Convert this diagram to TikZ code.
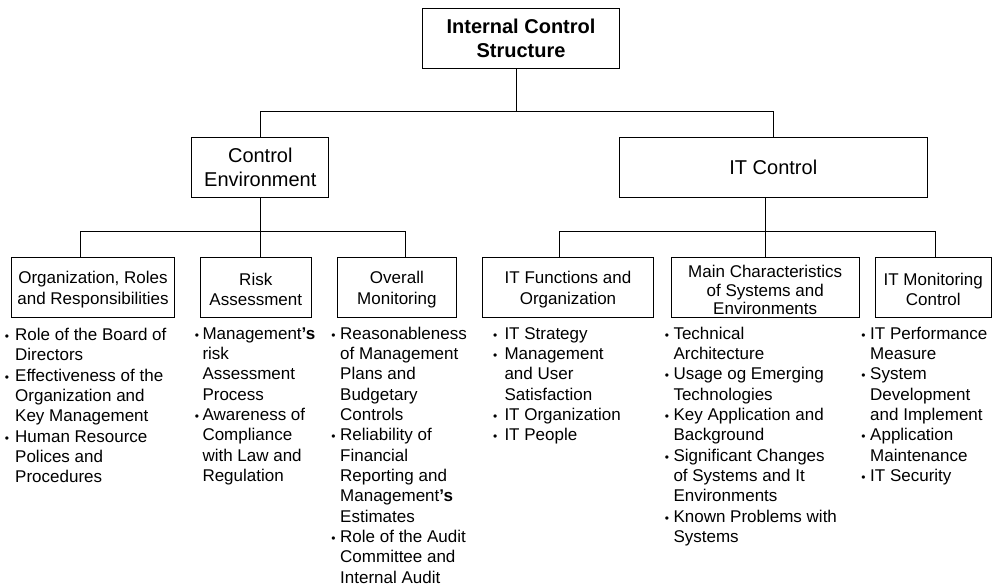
\documentclass[tikz,border=0pt]{standalone}
\usepackage{fontspec}
\setmainfont{Liberation Sans}
\newcommand\bu[1]{\llap{{\fontsize{12}{12}\selectfont •}\hspace{#1}}}
\newcommand\mgs{Management\textbf{’s}}
\begin{document}
\begin{tikzpicture}[x=1pt,y=-1pt,
  box/.style={draw, line width=1pt, inner sep=0pt, align=center},
  hdr/.style={box, minimum height=60pt},
  htxt/.style={inner sep=0pt, align=center, font=\fontsize{17}{20.5}\selectfont},
  lst/.style={anchor=base west, inner sep=0pt, font=\fontsize{17}{20.35}\selectfont},
  con/.style={line width=1pt}]
\useasboundingbox (0,0) rectangle (992,587);
\fill[white] (0,0) rectangle (992,587);

% top level
\node[box, minimum width=196.6pt, minimum height=60.4pt,
      font=\fontsize{20}{23.4}\selectfont\bfseries] (top) at (521,38.5) {Internal Control\\Structure};
\node[box, minimum width=137.3pt, minimum height=60pt,
      font=\fontsize{20}{24}\selectfont] (ce) at (260.3,167.5) {Control\\Environment};
\node[box, minimum width=308pt, minimum height=60pt,
      font=\fontsize{20}{24}\selectfont] (ic) at (773.3,167.5) {IT Control};

% second level boxes
\node[hdr, minimum width=162.6pt] (org) at (93,287.5) {};
\node[hdr, minimum width=110.5pt] (rk) at (255.75,287.5) {};
\node[hdr, minimum width=119.7pt] (ov) at (396.9,287.5) {};
\node[hdr, minimum width=170.6pt] (itf) at (568,287.5) {};
\node[hdr, minimum width=188.3pt] (mc) at (765.2,287.5) {};
\node[hdr, minimum width=115.5pt] (mon) at (933.25,287.5) {};

% second level texts
\node[htxt] (orgt) at ([yshift=-2pt]org.center) {Organization, Roles\\and Responsibilities};
\node[htxt] (rkt) at ([yshift=-2pt]rk.center) {Risk\\Assessment};
\node[htxt] (ovt) at ([yshift=-2pt]ov.center) {Overall\\Monitoring};
\node[htxt] (itft) at ([yshift=-2pt]itf.center) {IT Functions and\\Organization};
\node[htxt, font=\fontsize{17}{18.3}\selectfont] (mct) at ([yshift=-2.5pt]mc.center) {Main Characteristics\\of Systems and\\Environments};
\node[htxt] (mont) at ([yshift=-2pt]mon.center) {IT Monitoring\\Control};

% connectors
\coordinate (j0) at (516.7,111);
\coordinate (j1) at (260,231);
\coordinate (j2) at (765,231);
\draw[con] ([xshift=-4.3pt]top.south) -- (j0);
\draw[con] (ce.north) -- (ce.north |- j0) -- (ic.north |- j0) -- (ic.north);
\draw[con] (ce.south) -- (ce.south |- rk.north);
\draw[con] ([xshift=-13pt]org.north) -- ([xshift=-13pt]org.north |- j1) -- ([xshift=8.8pt]ov.north |- j1) -- ([xshift=8.8pt]ov.north);
\draw[con] (mc.north |- ic.south) -- (mc.north);
\draw[con] ([xshift=-8.7pt]itf.north) -- ([xshift=-8.7pt]itf.north |- j2) -- ([xshift=2.4pt]mon.north |- j2) -- ([xshift=2.4pt]mon.north);

% bullet lists
\node[lst] (l1) at (15,340.5) {\begin{tabular}[t]{@{}l@{}}
\bu{6.2pt}Role of the Board of\\ Directors\\
\bu{6.2pt}Effectiveness of the\\ Organization and\\ Key Management\\
\bu{6.2pt}Human Resource\\ Polices and\\ Procedures\end{tabular}};
\node[lst] (l2) at (202.3,339) {\begin{tabular}[t]{@{}l@{}}
\bu{3.5pt}\mgs\\ risk\\ Assessment\\ Process\\
\bu{3.5pt}Awareness of\\ Compliance\\ with Law and\\ Regulation\end{tabular}};
\node[lst] (l3) at (340,339) {\begin{tabular}[t]{@{}l@{}}
\bu{4.6pt}Reasonableness\\ of Management\\ Plans and\\ Budgetary\\ Controls\\
\bu{4.6pt}Reliability of\\ Financial\\ Reporting and\\ \mgs\\ Estimates\\
\bu{4.6pt}Role of the Audit\\ Committee and\\ Internal Audit\end{tabular}};
\node[lst] (l4) at (504.3,339) {\begin{tabular}[t]{@{}l@{}}
\bu{7.2pt}IT Strategy\\
\bu{7.2pt}Management\\ and User\\ Satisfaction\\
\bu{7.2pt}IT Organization\\
\bu{7.2pt}IT People\end{tabular}};
\node[lst] (l5) at (673.3,339) {\begin{tabular}[t]{@{}l@{}}
\bu{4.5pt}Technical\\ Architecture\\
\bu{4.5pt}Usage og Emerging\\ Technologies\\
\bu{4.5pt}Key Application and\\ Background\\
\bu{4.5pt}Significant Changes\\ of Systems and It\\ Environments\\
\bu{4.5pt}Known Problems with\\ Systems\end{tabular}};
\node[lst] (l6) at (870,339) {\begin{tabular}[t]{@{}l@{}}
\bu{4.6pt}IT Performance\\ Measure\\
\bu{4.6pt}System\\ Development\\ and Implement\\
\bu{4.6pt}Application\\ Maintenance\\
\bu{4.6pt}IT Security\end{tabular}};
\end{tikzpicture}
\end{document}
